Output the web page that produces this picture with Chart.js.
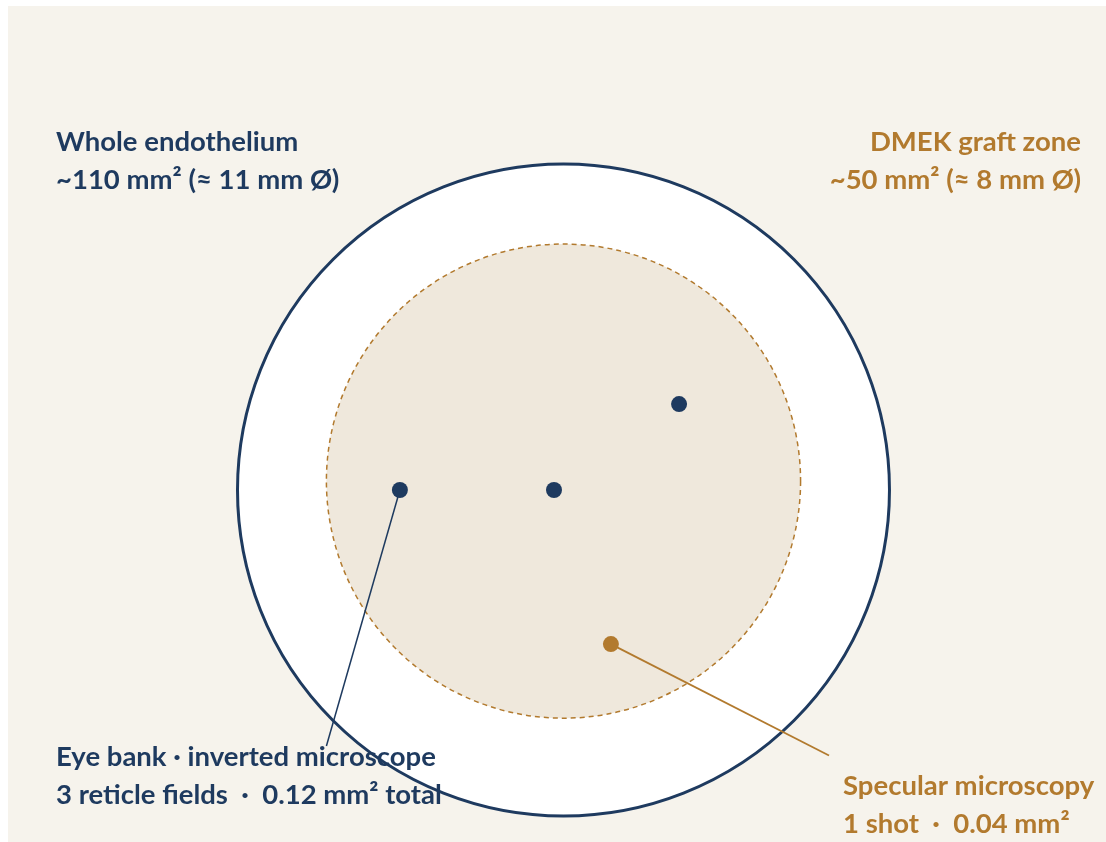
<!DOCTYPE html>
<html>
<head>
<meta charset="utf-8">
<script src="https://cdn.jsdelivr.net/npm/chart.js@4.4.1/dist/chart.umd.min.js"></script>
<style>
  html, body { margin: 0; padding: 0; background: #ffffff; }
  #wrap { width: 1106px; height: 842px; position: relative; }
</style>
</head>
<body>
<div id="wrap"><canvas id="c" width="1106" height="842"></canvas></div>
<script>
// ---- data (mm, centred on the cornea) ----
const zoneNames = ["Whole endothelium", "DMEK graft zone"];
const zoneDiameters = [11, 8];          // mm
const zoneCentersX = [0, 0];
const zoneCentersY = [0, 0.15];
const zoneLabels = [
  ["Whole endothelium", "~110 mm² (≈ 11 mm Ø)"],
  ["DMEK graft zone", "~50 mm² (≈ 8 mm Ø)"]
];

const eyeBankFieldsX = [-2.76, -0.16, 1.95];
const eyeBankFieldsY = [0, 0, 1.45];
const eyeBankLeaderX = [-2.76, -4.0];
const eyeBankLeaderY = [0, -4.32];
const eyeBankLabel = ["Eye bank · inverted microscope", "3 reticle fields  ·  0.12 mm² total"];

const specularShotX = [0.80];
const specularShotY = [-2.60];
const specularLeaderX = [0.80, 4.48];
const specularLeaderY = [-2.60, -4.48];
const specularLabel = ["Specular microscopy", "1 shot  ·  0.04 mm²"];

const NAVY = "#1e3a5f";
const BROWN = "#b27a2e";
const CREAM = "#f6f3ec";
const GRAFT_FILL = "#efe8dc";

const toPts = (xs, ys) => xs.map((x, i) => ({ x, y: ys[i] }));

const zonesPlugin = {
  id: "zones",
  beforeDraw(chart) {
    const ctx = chart.ctx;
    ctx.save();
    ctx.fillStyle = "#ffffff";
    ctx.fillRect(0, 0, chart.width, chart.height);
    ctx.fillStyle = CREAM;
    ctx.fillRect(8, 6, chart.width - 8, chart.height - 6);
    ctx.restore();
  },
  beforeDatasetsDraw(chart) {
    const ctx = chart.ctx;
    const sx = chart.scales.x, sy = chart.scales.y;
    const rpx = (d) => Math.abs(sx.getPixelForValue(d / 2) - sx.getPixelForValue(0));
    ctx.save();
    // whole endothelium
    ctx.beginPath();
    ctx.arc(sx.getPixelForValue(zoneCentersX[0]), sy.getPixelForValue(zoneCentersY[0]), rpx(zoneDiameters[0]), 0, Math.PI * 2);
    ctx.fillStyle = "#ffffff";
    ctx.fill();
    ctx.lineWidth = 3;
    ctx.strokeStyle = NAVY;
    ctx.stroke();
    // graft zone
    ctx.beginPath();
    ctx.arc(sx.getPixelForValue(zoneCentersX[1]), sy.getPixelForValue(zoneCentersY[1]), rpx(zoneDiameters[1]), 0, Math.PI * 2);
    ctx.fillStyle = GRAFT_FILL;
    ctx.fill();
    ctx.setLineDash([5, 4]);
    ctx.lineWidth = 1.5;
    ctx.strokeStyle = BROWN;
    ctx.stroke();
    ctx.restore();
  },
  afterDraw(chart) {
    const ctx = chart.ctx;
    ctx.save();
    ctx.font = "bold 27.5px Lato";
    ctx.textBaseline = "alphabetic";
    const draw = (lines, x, y0, color, align) => {
      ctx.fillStyle = color;
      ctx.textAlign = align;
      lines.forEach((t, i) => ctx.fillText(t, x, y0 + i * 38));
    };
    draw(zoneLabels[0], 56, 151, NAVY, "left");
    draw(zoneLabels[1], 1081, 151, BROWN, "right");
    draw(eyeBankLabel, 56, 766, NAVY, "left");
    draw(specularLabel, 843, 795, BROWN, "left");
    ctx.restore();
  }
};

new Chart(document.getElementById("c"), {
  type: "scatter",
  data: {
    datasets: [
      { type: "line", data: toPts(eyeBankLeaderX, eyeBankLeaderY), borderColor: NAVY, borderWidth: 1.5, pointRadius: 0, fill: false, order: 3 },
      { type: "line", data: toPts(specularLeaderX, specularLeaderY), borderColor: BROWN, borderWidth: 1.8, pointRadius: 0, fill: false, order: 3 },
      { data: toPts(eyeBankFieldsX, eyeBankFieldsY), backgroundColor: NAVY, borderWidth: 0, pointRadius: 8, order: 1 },
      { data: toPts(specularShotX, specularShotY), backgroundColor: BROWN, borderWidth: 0, pointRadius: 8, order: 1 }
    ]
  },
  options: {
    responsive: false,
    animation: false,
    layout: { padding: 0, autoPadding: false },
    plugins: { legend: { display: false }, tooltip: { enabled: false } },
    events: [],
    scales: {
      x: { type: "linear", min: -9.507, max: 9.153, display: false },
      y: { type: "linear", min: -5.939, max: 8.267, display: false }
    }
  },
  plugins: [zonesPlugin]
});
</script>
</body>
</html>
